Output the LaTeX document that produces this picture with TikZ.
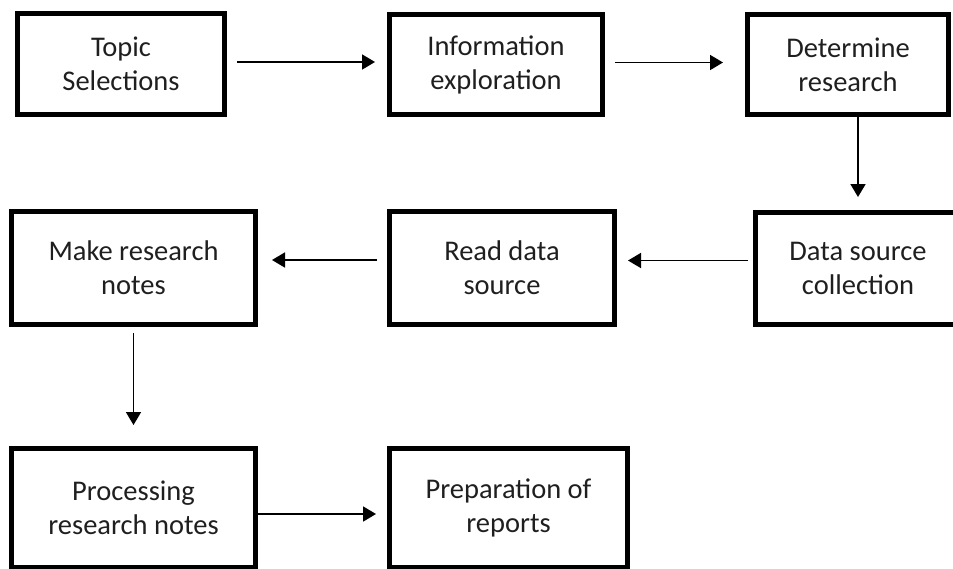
\documentclass[tikz,border=0pt]{standalone}
\usepackage{fontspec}
\setmainfont{Carlito}
\usetikzlibrary{arrows.meta}
\begin{document}
\begin{tikzpicture}[x=1pt,y=-1pt,
  box/.style={draw, line width=5pt, inner sep=0pt, align=center,
    font=\fontsize{28.5}{34}\selectfont, text=black!88},
  arr/.style={line width=1.8pt, -{Triangle[length=13pt,width=15pt]}}]
\useasboundingbox (0,0) rectangle (953,568);
\clip (0,0) rectangle (953,568);
\node[box, minimum width=207pt, minimum height=101pt] (b1) at (121,64) {Topic\\Selections};
\node[box, minimum width=213pt, minimum height=100pt] (b2) at (496,64.5) {Information\\exploration};
\node[box, minimum width=201pt, minimum height=100pt] (b3) at (848,64.5) {Determine\\research};
\node[box, minimum width=244pt, minimum height=113pt] (b4) at (133.5,268) {Make research\\notes};
\node[box, minimum width=225pt, minimum height=113pt] (b5) at (502,268) {Read data\\source};
\node[box, minimum width=205pt, minimum height=112pt] (b6) at (858,268.5) {Data source\\collection};
\node[box, minimum width=244pt, minimum height=119pt] (b7) at (133.5,508) {Processing\\research notes};
\node[box, minimum width=238pt, minimum height=119pt] (b8) at (508.5,508) {Preparation of\\reports};
\draw[arr] ([shift={(10,-2)}]b1.east) -- ([shift={(-12,-2)}]b2.west |- b1.east);
\draw[arr] ([shift={(10,-2)}]b2.east) -- ([shift={(-22,-2)}]b3.west |- b2.east);
\draw[arr] (b6.north |- b3.south) -- ([shift={(0,-13)}]b6.north);
\draw[arr] ([shift={(-5,-8)}]b6.west) -- ([shift={(11,-8)}]b5.east |- b6.west);
\draw[arr] ([shift={(-10,-8)}]b5.west) -- ([shift={(14,-8)}]b4.east |- b5.west);
\draw[arr] ([shift={(0,6)}]b4.south) -- ([shift={(0,-21)}]b7.north);
\draw[arr] ([shift={(0,6)}]b7.east) -- ([shift={(-11,6)}]b8.west |- b7.east);
\end{tikzpicture}
\end{document}
